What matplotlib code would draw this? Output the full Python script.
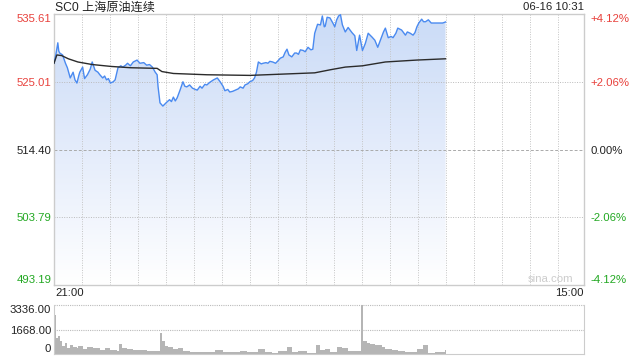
import numpy as np
import matplotlib
matplotlib.use('Agg')
import matplotlib.pyplot as plt
from matplotlib.colors import LinearSegmentedColormap

plt.rcParams['font.family'] = ['Liberation Sans', 'Noto Sans CJK SC', 'DejaVu Sans']

# trading minutes since 21:00 (night + day session = 555 min)
total_min = 555
price_t = [0, 2, 4, 5, 6, 9, 12, 14, 17, 20, 22, 24, 26, 27, 30, 32, 35, 38, 40, 43,
           46, 48, 51, 53, 55, 57, 59, 62, 64, 67, 70, 72, 75, 77, 80, 83, 87, 90, 94, 97,
           100, 103, 106, 108, 109, 111, 114, 116, 118, 121, 123, 125, 127, 129, 132, 135, 137, 139, 142, 145,
           148, 150, 153, 155, 158, 160, 163, 167, 171, 174, 177, 179, 182, 184, 187, 190, 193, 195, 198, 200,
           203, 205, 208, 210, 212, 214, 217, 219, 222, 224, 226, 229, 232, 234, 237, 240, 242, 244, 246, 249,
           252, 254, 256, 258, 261, 263, 266, 269, 271, 273, 276, 279, 281, 283, 284, 286, 289, 292, 294, 296,
           298, 300, 302, 305, 308, 310, 312, 315, 317, 319, 320, 323, 326, 329, 331, 333, 336, 339, 341, 343,
           345, 347, 350, 353, 355, 358, 360, 364, 368, 370, 373, 376, 378, 380, 382, 385, 387, 389, 392, 395,
           397, 407, 410]
price = [527.9, 529.3, 531.1, 529.8, 529.5, 529.2, 527.9, 527.2, 525.6, 526.5, 525.3, 524.8, 526.0, 526.5, 527.3, 525.5, 526.1, 527.0, 528.1, 526.8,
         526.5, 526.1, 525.6, 525.9, 525.3, 525.5, 524.8, 525.0, 525.3, 527.2, 527.5, 527.3, 527.6, 527.9, 527.5, 528.1, 528.4, 527.9, 528.0, 527.6,
         527.7, 527.3, 526.5, 526.1, 524.2, 521.7, 521.2, 521.5, 521.8, 522.2, 521.9, 522.6, 522.0, 522.5, 523.7, 525.0, 524.3, 524.2, 524.5, 524.0,
         523.8, 523.7, 524.3, 524.0, 524.6, 524.5, 524.9, 525.3, 525.6, 525.0, 524.3, 523.6, 523.8, 523.4, 523.5, 523.7, 523.9, 524.2, 524.0, 524.5,
         524.7, 525.0, 525.2, 525.6, 526.5, 528.1, 527.8, 527.9, 528.0, 527.9, 528.2, 528.1, 527.9, 528.2, 528.7, 528.9, 529.6, 530.1, 529.2, 528.9,
         529.5, 529.5, 529.3, 530.0, 529.9, 529.7, 530.4, 530.0, 530.1, 532.6, 534.0, 533.9, 535.3, 533.6, 533.7, 535.1, 535.0, 534.2, 533.6, 534.7,
         535.3, 535.5, 533.9, 532.8, 533.5, 533.1, 532.7, 532.2, 529.9, 531.5, 532.3, 529.9, 531.0, 532.6, 532.3, 532.0, 531.5, 530.4, 531.2, 532.0,
         532.8, 533.4, 531.9, 532.1, 531.9, 532.6, 533.4, 533.1, 532.3, 532.8, 532.6, 532.3, 532.7, 533.6, 534.2, 534.8, 534.4, 534.4, 534.7, 534.2,
         534.2, 534.2, 534.36]

avg_t = [0, 3, 8, 15, 25, 40, 60, 80, 108, 113, 125, 160, 205, 273, 290, 305, 323, 347, 380, 410]
avg = [527.9, 529.2, 529.1, 528.6, 528.1, 527.7, 527.4, 527.2, 527.1, 526.6, 526.3, 526.1, 526.0, 526.4, 526.9, 527.3, 527.5, 528.1, 528.4, 528.6]

vol_t = [0, 2, 4, 6, 8, 12, 14, 17, 20, 24, 25, 30, 35, 41, 48, 53, 59, 66, 68, 71,
         76, 83, 90, 97, 104, 111, 113, 116, 119, 125, 130, 135, 142, 150, 160, 169, 177, 184, 195, 202,
         207, 214, 221, 228, 235, 244, 249, 256, 265, 270, 274, 279, 284, 289, 296, 302, 308, 315, 322, 324,
         328, 331, 336, 339, 343, 347, 354, 360, 368, 375, 380, 386, 392, 399, 409]
vol = [2625, 1088, 1240, 862, 520, 750, 410, 635, 450, 410, 520, 360, 450, 410, 295, 410, 250, 180, 680, 410,
       360, 250, 295, 230, 180, 1430, 906, 520, 450, 360, 410, 230, 140, 113, 113, 295, 140, 140, 180, 113,
       113, 360, 140, 70, 180, 500, 113, 180, 70, 70, 635, 295, 340, 113, 450, 410, 230, 180, 3336, 906,
       750, 680, 590, 635, 450, 360, 295, 180, 113, 140, 340, 635, 70, 113, 295]

levels = [493.19, 503.79, 514.40, 525.01, 535.61]
left_labels = ['493.19', '503.79', '514.40', '525.01', '535.61']
right_labels = ['-4.12%', '-2.06%', '0.00%', '+2.06%', '+4.12%']
red, green, dark = '#e8413c', '#22a822', '#222222'
label_colors = [green, green, dark, red, red]
fs = 8.2

fig = plt.figure(figsize=(6.4, 3.6), dpi=100)
ax = fig.add_axes([54/640, 1 - 285/360, 530/640, 271/360])
ax.set_xlim(0, total_min)
ax.set_ylim(levels[0], levels[-1])

# grid (drawn above the area fill, below the lines)
step = total_min * 28 / 530
for k in range(1, 19):
    ax.axvline(k * step, color='#c4c4c4', lw=0.7, ls=(0, (1, 1.5)), zorder=2)
for lv in levels[1:-1]:
    if lv == 514.40:
        ax.axhline(lv, color='#aaaaaa', lw=0.7, ls=(0, (3, 2)), zorder=2)
    else:
        ax.axhline(lv, color='#bbbbbb', lw=0.7, ls=(0, (1, 1.5)), zorder=2)

# gradient area under price line
poly = ax.fill_between(price_t, price, levels[0], color='none', lw=0)
cmap = LinearSegmentedColormap.from_list('g', ['#ffffff', '#e4ecfb', '#cadbf7'])
grad = np.linspace(0, 1, 256).reshape(-1, 1)
im = ax.imshow(grad, extent=[0, total_min, levels[0], levels[-1]], aspect='auto',
               origin='lower', cmap=cmap, zorder=1)
im.set_clip_path(poly.get_paths()[0], transform=ax.transData)

ax.plot(price_t, price, color='#4a8af0', lw=1.0, zorder=3)
ax.plot(avg_t, avg, color='#2b2b2b', lw=1.0, zorder=3)

ax.set_xticks([])
ax.set_yticks(levels)
ax.set_yticklabels(left_labels, fontsize=fs)
ax.tick_params(axis='y', length=0, pad=2)
for lbl, c in zip(ax.get_yticklabels(), label_colors):
    lbl.set_color(c)
ax.get_yticklabels()[0].set_va('bottom')
ax.get_yticklabels()[-1].set_va('top')
for s in ax.spines.values():
    s.set_color('#cccccc')
    s.set_linewidth(1)

ax2 = ax.twinx()
ax2.set_ylim(levels[0], levels[-1])
ax2.set_yticks(levels)
ax2.set_yticklabels(right_labels, fontsize=fs)
ax2.tick_params(axis='y', length=0, pad=5)
for lbl, c in zip(ax2.get_yticklabels(), label_colors):
    lbl.set_color(c)
ax2.get_yticklabels()[0].set_va('bottom')
ax2.get_yticklabels()[-1].set_va('top')
for s in ax2.spines.values():
    s.set_visible(False)

ax.text(0.002, 1.022, 'SC0 上海原油连续', transform=ax.transAxes, ha='left', va='center',
        fontsize=8.7, color='#222222')
ax.text(1.0, 1.025, '06-16 10:31', transform=ax.transAxes, ha='right', va='center',
        fontsize=fs, color='#222222')
ax.text(0.002, -0.012, '21:00', transform=ax.transAxes, ha='left', va='top', fontsize=fs, color='#222222')
ax.text(1.0, -0.012, '15:00', transform=ax.transAxes, ha='right', va='top', fontsize=fs, color='#222222')
ax.text(0.979, 0.022, 'sina.com', transform=ax.transAxes, ha='right', va='center', fontsize=fs, color='#cccccc')

# volume panel
axv = fig.add_axes([54/640, 1 - 354/360, 530/640, 49/360])
axv.set_xlim(0, total_min)
axv.set_ylim(0, 3336)
widths = np.diff(vol_t + [410])
axv.bar(vol_t, vol, width=widths, align='edge', color='#b5b5b5', lw=0)
axv.axhline(3336, color='#bbbbbb', lw=0.8, ls=(0, (1, 1)), clip_on=False)
axv.axhline(1668, color='#bbbbbb', lw=0.8, ls=(0, (1, 1)))
axv.set_xticks([])
axv.set_yticks([0, 1668, 3336])
axv.set_yticklabels(['0', '1668.00', '3336.00'], fontsize=fs, color=dark)
axv.tick_params(axis='y', length=0, pad=2)
axv.get_yticklabels()[0].set_va('bottom')
axv.get_yticklabels()[-1].set_va('top')
axv.spines['top'].set_visible(False)
for s in ['left', 'right', 'bottom']:
    axv.spines[s].set_color('#cccccc')

fig.savefig('out.png', dpi=100)
